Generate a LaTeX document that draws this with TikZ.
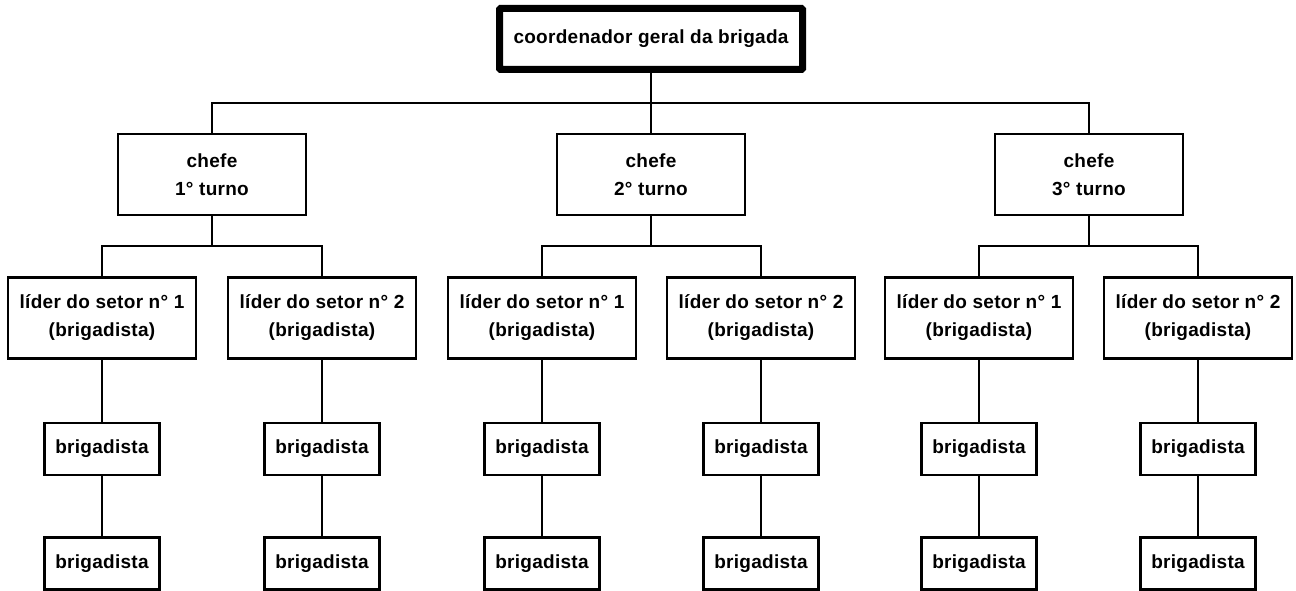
\documentclass[tikz,border=0pt]{standalone}
\usepackage{fontspec}
\setmainfont{Liberation Sans}[LetterSpace=1.5]
\begin{document}
\begin{tikzpicture}[x=1pt,y=-1pt,
  font=\fontsize{19pt}{28pt}\selectfont\bfseries,
  box/.style={draw=black,line width=2.4pt,rectangle,inner sep=0pt,align=center},
  topbox/.style={box,line width=7pt,rounded corners=1pt,minimum width=303pt,minimum height=61pt},
  chefebox/.style={box,minimum width=188pt,minimum height=81pt},
  liderbox/.style={box,minimum width=188pt,minimum height=81pt},
  brigbox/.style={box,minimum width=115pt,minimum height=52pt},
  conn/.style={draw=black,line width=2.4pt}]
\useasboundingbox (0,0) rectangle (1296,591);
\node[topbox] (top) at (651,39) {coordenador geral da brigada};
\node[chefebox] (c1) at (212,174.5) {chefe\\1° turno};
\node[chefebox] (c2) at (651,174.5) {chefe\\2° turno};
\node[chefebox] (c3) at (1089,174.5) {chefe\\3° turno};
\coordinate (j0) at (651,103);
\path[conn] (top.south) -- (j0);
\path[conn] (c1.north) |- (j0) -| (c3.north);
\path[conn] (j0) -- (c2.north);
\foreach \c/\a/\b/\cx [count=\i] in {c1/102/322/212, c2/542/761/651, c3/979/1198/1089}{
  \node[liderbox] (l\i a) at (\a,318) {líder do setor n° 1\\(brigadista)};
  \node[liderbox] (l\i b) at (\b,318) {líder do setor n° 2\\(brigadista)};
  \coordinate (k\i) at (\cx,246);
  \path[conn] (\c.south) -- (k\i);
  \path[conn] (l\i a.north) |- (k\i) -| (l\i b.north);
  \foreach \s/\x in {a/\a, b/\b}{
    \node[brigbox] (b\i\s1) at (\x,449) {brigadista};
    \node[brigbox] (b\i\s2) at (\x,563.5) {brigadista};
    \path[conn] (l\i\s.south) -- (b\i\s1.north);
    \path[conn] (b\i\s1.south) -- (b\i\s2.north);
  }
}
\end{tikzpicture}
\end{document}
